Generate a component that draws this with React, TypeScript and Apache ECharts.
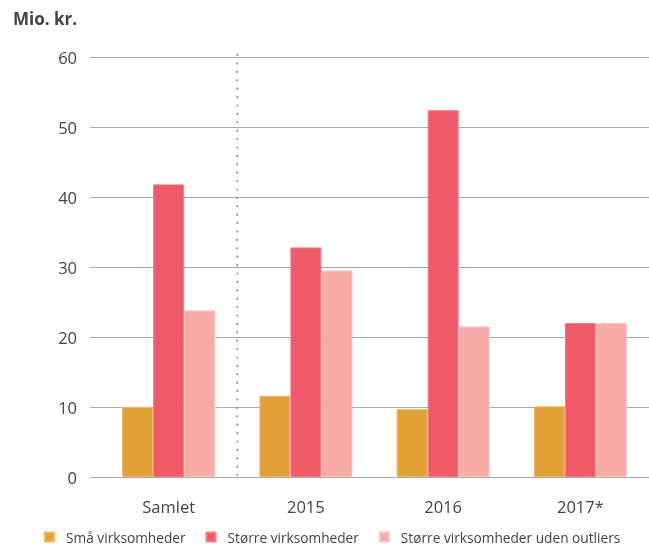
import React, { useEffect, useRef } from "react";
import * as echarts from "echarts";

const categories = ["Samlet", "2015", "2016", "2017*"];
const smaa = [10.0, 11.6, 9.7, 10.1];
const stoerre = [41.8, 32.8, 52.4, 22.0];
const stoerreUden = [23.8, 29.5, 21.5, 22.0];
const seriesNames = ["Små virksomheder", "Større virksomheder", "Større virksomheder uden outliers"];
const colors = ["#E3A036", "#F05A68", "#F8ABA6"];
const borders = ["#EDB866", "#F47C87", "#FBC3BF"];

export default function App() {
  const ref = useRef<HTMLDivElement>(null);
  useEffect(() => {
    if (!ref.current) return;
    const chart = echarts.init(ref.current, undefined, { renderer: "svg" });
    const font = "'Open Sans', 'Noto Sans', sans-serif";
    const dataSets = [smaa, stoerre, stoerreUden];
    chart.setOption({
      animation: false,
      textStyle: { fontFamily: font },
      title: {
        text: "Mio. kr.",
        left: 8,
        top: 5,
        textStyle: { fontSize: 17, fontWeight: "bold", color: "#444", fontFamily: font },
      },
      legend: {
        top: 525,
        left: 39,
        width: 608,
        itemWidth: 9,
        itemHeight: 9,
        itemGap: 20,
        icon: "rect",
        textStyle: { fontSize: 13.7, color: "#444", fontFamily: font, padding: [0, 0, 0, 7] },
        data: seriesNames,
      },
      grid: [
        { left: 90, right: 0, top: 57, bottom: 68 },
        { left: 100, right: 0, top: 57, bottom: 68 },
      ],
      xAxis: [
        { type: "category", gridIndex: 0, data: categories, show: false },
        {
          type: "category",
          gridIndex: 1,
          data: categories,
          axisLine: { show: false },
          axisTick: { show: false },
          axisLabel: { fontSize: 16.5, color: "#444", margin: 21, fontFamily: font },
          splitLine: { show: false },
        },
      ],
      yAxis: [
        {
          type: "value",
          gridIndex: 0,
          min: 0,
          max: 60,
          interval: 10,
          axisLine: { show: false },
          axisTick: { show: false },
          axisLabel: { fontSize: 16.5, color: "#444", margin: 13, fontFamily: font },
          splitLine: { lineStyle: { color: "#aaa", width: 1 } },
        },
        { type: "value", gridIndex: 1, min: 0, max: 60, interval: 10, show: false, splitLine: { show: false } },
      ],
      series: seriesNames.map((name, k) => ({
        name,
        type: "bar",
        xAxisIndex: 1,
        yAxisIndex: 1,
        data: dataSets[k],
        barWidth: 31,
        barGap: "0%",
        itemStyle: { color: colors[k], borderColor: borders[k], borderWidth: 1 },
      })),
    });
    // dotted separator between "Samlet" and the yearly categories
    const p0 = chart.convertToPixel({ xAxisIndex: 1, yAxisIndex: 1 }, [0, 60]) as number[];
    const p1 = chart.convertToPixel({ xAxisIndex: 1, yAxisIndex: 1 }, [1, 0]) as number[];
    const sx = (p0[0] + p1[0]) / 2;
    chart.setOption({
      graphic: [
        {
          type: "line",
          shape: { x1: sx, y1: p0[1] - 2, x2: sx, y2: p1[1] },
          style: { stroke: "#8a8a8a", lineWidth: 2, lineDash: [0.1, 8.3], lineCap: "round" },
          z: 10,
        },
      ],
    });
    return () => chart.dispose();
  }, []);
  return <div ref={ref} style={{ position: "fixed", left: 0, top: 0, width: 649, height: 545 }} />;
}
